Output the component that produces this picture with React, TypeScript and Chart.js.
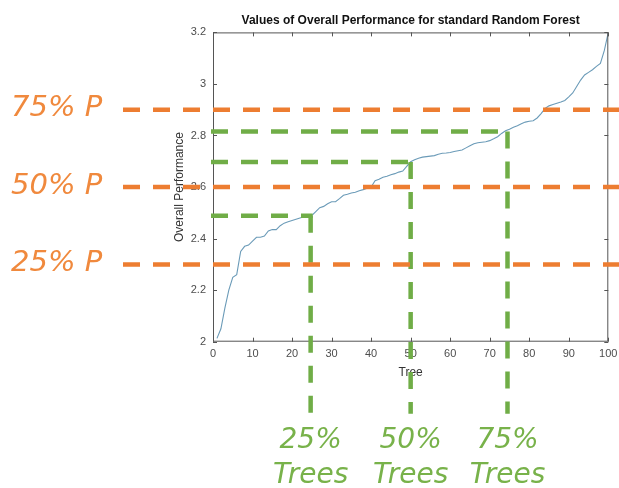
import React, { useEffect, useRef } from "react";
import { Chart, registerables } from "chart.js";

Chart.register(...registerables);

const treeIndex = [
  1, 2, 3, 4, 5, 6, 7, 8, 9, 10, 11, 12, 13, 14, 15, 16, 17, 18, 19, 20,
  21, 22, 23, 24, 25, 26, 27, 28, 29, 30, 31, 32, 33, 34, 35, 36, 37, 38, 39, 40,
  41, 42, 43, 44, 45, 46, 47, 48, 49, 50, 51, 52, 53, 54, 55, 56, 57, 58, 59, 60,
  61, 62, 63, 64, 65, 66, 67, 68, 69, 70, 71, 72, 73, 74, 75, 76, 77, 78, 79, 80,
  81, 82, 83, 84, 85, 86, 87, 88, 89, 90, 91, 92, 93, 94, 95, 96, 97, 98, 99, 100,
];

const performance = [
  2.013, 2.05, 2.13, 2.2, 2.25, 2.26, 2.35, 2.37, 2.375, 2.39,
  2.405, 2.405, 2.41, 2.43, 2.435, 2.435, 2.45, 2.46, 2.465, 2.47,
  2.475, 2.48, 2.485, 2.487, 2.49, 2.505, 2.52, 2.525, 2.535, 2.543,
  2.543, 2.555, 2.568, 2.572, 2.577, 2.58, 2.586, 2.59, 2.595, 2.6,
  2.625, 2.63, 2.638, 2.642, 2.648, 2.652, 2.658, 2.662, 2.68, 2.698,
  2.706, 2.712, 2.716, 2.718, 2.72, 2.722, 2.727, 2.731, 2.732, 2.734,
  2.738, 2.741, 2.744, 2.752, 2.76, 2.768, 2.772, 2.774, 2.776, 2.78,
  2.787, 2.795, 2.808, 2.818, 2.824, 2.832, 2.838, 2.846, 2.852, 2.855,
  2.857, 2.868, 2.885, 2.905, 2.915, 2.92, 2.925, 2.93, 2.936, 2.95,
  2.965, 2.99, 3.015, 3.035, 3.045, 3.055, 3.068, 3.08, 3.13, 3.2,
];

const percentileLabels = ["25% P", "50% P", "75% P"];
const percentileValues = [2.3, 2.6, 2.9];

const treeLabelTop = ["25%", "50%", "75%"];
const treeLabelBottom = ["Trees", "Trees", "Trees"];
const treePositions = [24.7, 50, 74.5];
const treePerformance = [2.489, 2.697, 2.816];

const ORANGE = "#ED7D31";
const GREEN = "#70AD47";
const AXIS = "#555555";
const AXIS_FONT = "'Liberation Sans', Arial, sans-serif";

const decorPlugin = {
  id: "decor",
  afterDraw(chart: any) {
    const { ctx, chartArea, scales } = chart;
    const xs = scales.x;
    const ys = scales.y;
    ctx.save();
    // box + inward ticks
    ctx.strokeStyle = AXIS;
    ctx.lineWidth = 1;
    ctx.setLineDash([]);
    ctx.strokeRect(chartArea.left + 0.5, chartArea.top + 0.5, chartArea.width - 1, chartArea.height - 1);
    ctx.beginPath();
    xs.ticks.forEach((t: any) => {
      const px = Math.round(xs.getPixelForValue(t.value)) + 0.5;
      ctx.moveTo(px, chartArea.bottom);
      ctx.lineTo(px, chartArea.bottom - 4);
      ctx.moveTo(px, chartArea.top);
      ctx.lineTo(px, chartArea.top + 4);
    });
    ys.ticks.forEach((t: any) => {
      const py = Math.round(ys.getPixelForValue(t.value)) + 0.5;
      ctx.moveTo(chartArea.left, py);
      ctx.lineTo(chartArea.left + 4, py);
      ctx.moveTo(chartArea.right, py);
      ctx.lineTo(chartArea.right - 4, py);
    });
    ctx.stroke();

    ctx.lineCap = "butt";
    ctx.lineWidth = 4.5;
    ctx.setLineDash([17, 13]);

    // green guide lines
    ctx.strokeStyle = GREEN;
    treePositions.forEach((pos, i) => {
      const px = xs.getPixelForValue(pos);
      const py = ys.getPixelForValue(treePerformance[i]);
      ctx.beginPath();
      ctx.moveTo(chartArea.left - 2, py);
      ctx.lineTo(px + 2, py);
      ctx.stroke();
      ctx.beginPath();
      ctx.moveTo(px, py);
      ctx.lineTo(px, chartArea.bottom + 72);
      ctx.stroke();
    });

    // orange percentile lines
    ctx.strokeStyle = ORANGE;
    percentileValues.forEach((v) => {
      const py = ys.getPixelForValue(v);
      ctx.beginPath();
      ctx.moveTo(chartArea.left - 90, py);
      ctx.lineTo(chart.width, py);
      ctx.stroke();
    });

    ctx.setLineDash([]);
    // orange labels
    ctx.fillStyle = "#F0893D";
    ctx.font = "italic 29px 'DejaVu Sans'";
    ctx.textAlign = "left";
    ctx.textBaseline = "middle";
    percentileLabels.forEach((lab, i) => {
      const py = ys.getPixelForValue(percentileValues[i]);
      ctx.fillText(lab, 11, py - 1);
    });

    // green labels
    ctx.fillStyle = "#78B24A";
    ctx.font = "italic 28px 'DejaVu Sans'";
    ctx.textAlign = "center";
    treePositions.forEach((pos, i) => {
      const px = xs.getPixelForValue(pos);
      ctx.fillText(treeLabelTop[i], px, 441);
      ctx.fillText(treeLabelBottom[i], px, 476);
    });
    ctx.restore();
  },
};

export default function App() {
  const ref = useRef<HTMLCanvasElement | null>(null);

  useEffect(() => {
    document.body.style.margin = "0";
    if (!ref.current) return;
    const chart = new Chart(ref.current, {
      type: "line",
      data: {
        datasets: [
          {
            data: treeIndex.map((t, i) => ({ x: t, y: performance[i] })),
            borderColor: "#6b9bb8",
            borderWidth: 1.1,
            pointRadius: 0,
            tension: 0,
            fill: false,
          },
        ],
      },
      options: {
        animation: false,
        responsive: false,
        layout: { padding: { left: 172, right: 10.7, top: 0, bottom: 106.3 } },
        plugins: {
          legend: { display: false },
          tooltip: { enabled: false },
          title: {
            display: true,
            text: "Values of Overall Performance for standard Random Forest",
            fullSize: false,
            color: "#111111",
            font: { family: AXIS_FONT, size: 12, weight: "bold" },
            padding: { top: 13, bottom: 5 },
          },
        },
        scales: {
          x: {
            type: "linear",
            min: 0,
            max: 100,
            afterFit: (s: any) => {
              s.height = 40;
              s.paddingLeft = 0;
              s.paddingRight = 0;
            },
            ticks: {
              stepSize: 10,
              color: "#4d4d4d",
              padding: 6,
              maxRotation: 0,
              font: { family: AXIS_FONT, size: 11 },
            },
            grid: { display: false, drawTicks: false },
            border: { display: false },
            title: {
              display: true,
              text: "Tree",
              color: "#333333",
              font: { family: AXIS_FONT, size: 12 },
              padding: { top: 0, bottom: 1.5 },
            },
          },
          y: {
            type: "linear",
            min: 2,
            max: 3.2,
            afterFit: (s: any) => {
              s.width = 41;
              s.paddingTop = 0;
              s.paddingBottom = 0;
            },
            ticks: {
              stepSize: 0.2,
              color: "#4d4d4d",
              padding: 7,
              font: { family: AXIS_FONT, size: 11 },
              callback: (v: any) => String(Math.round(Number(v) * 10) / 10),
            },
            grid: { display: false, drawTicks: false },
            border: { display: false },
            title: {
              display: true,
              text: "Overall Performance",
              color: "#333333",
              font: { family: AXIS_FONT, size: 12 },
              padding: { top: 0, bottom: 0 },
            },
          },
        },
      },
      plugins: [decorPlugin],
    });
    return () => chart.destroy();
  }, []);

  return (
    <div style={{ width: 619, height: 488 }}>
      <canvas ref={ref} width={619} height={488} style={{ display: "block" }} />
    </div>
  );
}
